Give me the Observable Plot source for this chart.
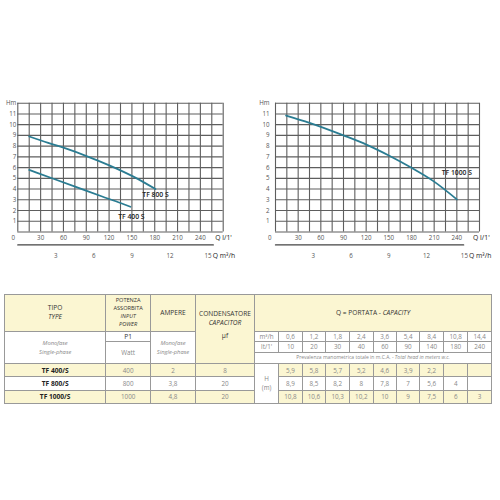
<!DOCTYPE html>
<html><head><meta charset="utf-8">
<script src="https://cdn.jsdelivr.net/npm/d3@7"></script>
<script src="https://cdn.jsdelivr.net/npm/@observablehq/plot@0.6"></script>
<style>
body{margin:0;background:#fff;font-family:"Open Sans",sans-serif}
#wrap{position:relative;width:500px;height:500px;overflow:hidden;background:#fff}
#wrap svg{display:block}
#c1{position:absolute;left:0;top:90px}
#c2{position:absolute;left:250px;top:90px}
#tbl{position:absolute;left:4px;top:294px}
table{border-collapse:collapse;table-layout:fixed;width:487px;font-family:"Open Sans",sans-serif;font-size:6.3px;line-height:1.15;color:#888}
td{border:1px solid #999;padding:0;text-align:center;vertical-align:middle;overflow:hidden;white-space:nowrap}
.cr{background:#fbf6d2}
.hd{color:#333;font-size:6.6px}
.md{color:#222;font-weight:700;font-size:6.6px}
.it{font-style:italic}
.sm{font-size:5.6px}
.mono{font-size:5.8px}
</style></head>
<body><div id="wrap"><div id="c1"></div><div id="c2"></div><div id="tbl"></div></div>
<script>
// ---- axis tick labels ----
const qTicksLmin = [0, 30, 60, 90, 120, 150, 180, 210, 240];
const qTicksM3h = [3, 6, 9, 12, 15];
const hTicks = [1, 2, 3, 4, 5, 6, 7, 8, 9, 10, 11, 12];
const gridQ = [0,15,30,45,60,75,90,105,120,135,150,165,180,195,210,225,240,255,270];
const gridH = [0,1,2,3,4,5,6,7,8,9,10,11,12];

// ---- curves (Q l/min, H m) ----
const tf400Q = [15, 45, 78, 110, 135, 148];
const tf400H = [5.78, 5.01, 4.16, 3.33, 2.70, 2.35];
const tf800Q = [15, 40, 61, 92, 121, 152, 181];
const tf800H = [8.9, 8.3, 7.83, 7.03, 6.19, 5.16, 4.0];
const tf1000Q = [14, 45, 90, 121, 150, 180, 209, 240];
const tf1000H = [10.85, 10.17, 9.0, 8.12, 7.13, 5.98, 4.74, 3.04];

// ---- table ----
const models = ["TF 400/S", "TF 800/S", "TF 1000/S"];
const powerW = [400, 800, 1000];
const ampere = [2, 3.8, 4.8];
const capacitor = [8, 20, 20];
const flowM3h = [0.6, 1.2, 1.8, 2.4, 3.6, 5.4, 8.4, 10.8, 14.4];
const flowLmin = [10, 20, 30, 40, 60, 90, 140, 180, 240];
const head400 = [5.9, 5.8, 5.7, 5.2, 4.6, 3.9, 2.2, null, null];
const head800 = [8.9, 8.5, 8.2, 8, 7.8, 7, 5.6, 4, null];
const head1000 = [10.8, 10.6, 10.3, 10.2, 10, 9, 7.5, 6, 3];

const rows = (name, qs, hs) => qs.map((q, i) => ({model: name, q, h: hs[i]}));
const lineColor = "#2a7c92";
const gridColor = "#5e5e5e";
const font = "Open Sans, sans-serif";

function chart(series, opt) {
  const axisLine = [{q: 0, h: -1.2}, {q: opt.axisEnd, h: -1.2}];
  const marks = [
    Plot.gridX(gridQ, {stroke: gridColor, strokeOpacity: 1, strokeWidth: 1.1}),
    Plot.gridY(gridH, {stroke: gridColor, strokeOpacity: 1, strokeWidth: 1.1}),
    // secondary (m³/h) axis line just below the frame
    Plot.line(axisLine, {x: "q", y: "h", stroke: "#444", strokeWidth: 1.3, strokeOpacity: 1}),
    Plot.axisY(hTicks, {tickSize: 0, tickPadding: opt.tickPad, tickFormat: d => d === 12 ? "Hm" : d, label: null}),
    Plot.axisX([qTicksLmin[0]], {tickSize: 0, tickPadding: 4, dx: opt.zeroDx, label: null}),
    Plot.axisX(qTicksLmin.slice(1), {tickSize: 0, tickPadding: 4, label: null}),
    Plot.axisX(qTicksM3h.map(v => v * 1000 / 60), {tickSize: 0, tickPadding: 4, dy: 17.5, tickFormat: d => Math.round(d * 60 / 1000), label: null}),
    Plot.text(["Q l/1'"], {text: d => d, frameAnchor: "bottom-right", textAnchor: "start", dx: opt.qdx, dy: 8, fill: "#222", fontSize: 6.8}),
    Plot.text(["Q m³/h"], {text: d => d, frameAnchor: "bottom-right", textAnchor: "start", dx: -10.5, dy: 25.5, fill: "#222", fontSize: 6.8})
  ];
  for (const s of series) {
    marks.push(Plot.line(s.data, {x: "q", y: "h", stroke: lineColor, strokeWidth: 1.8, curve: "monotone-x"}));
    marks.push(Plot.text(s.data, Plot.selectLast({x: "q", y: "h", text: () => s.label, dx: s.dx, dy: s.dy, fill: "#222", fontWeight: 600, fontSize: 6.8})));
  }
  return Plot.plot({
    width: 250, height: 175,
    marginTop: 12.7, marginBottom: 33.5, marginLeft: opt.ml, marginRight: opt.mr,
    x: {domain: [0, 270]}, y: {domain: [0, 12]},
    style: {fontFamily: font, fontSize: "6.2px", color: "#555", background: "transparent", overflow: "visible"},
    marks
  });
}

document.getElementById("c1").append(chart([
  {data: rows("TF 800 S", tf800Q, tf800H), label: "TF 800 S", dx: 0, dy: 6},
  {data: rows("TF 400 S", tf400Q, tf400H), label: "TF 400 S", dx: 1, dy: 10.5}
], {ml: 17.3, mr: 27.3, tickPad: 1.5, qdx: -8, zeroDx: -4.6, axisEnd: 257}));

document.getElementById("c2").append(chart([
  {data: rows("TF 1000 S", tf1000Q, tf1000H), label: "TF 1000 S", dx: 0, dy: -27}
], {ml: 25, mr: 21, tickPad: 6, qdx: -6.5, zeroDx: -5.7, axisEnd: 249}));

// ---- build table ----
const fmt = v => v == null ? "" : String(v).replace(".", ",");
const colW = [101.3, 44.7, 45, 59, 24.3, 23.4, 23.6, 23.7, 23.7, 23.3, 23.3, 24, 24, 23.7];
let h = '<table><colgroup>' + colW.map(w => `<col style="width:${w}px">`).join("") + '</colgroup>';
h += `<tr style="height:37px">
<td class="cr hd" style="line-height:1.35">TIPO<br><span class="it">TYPE</span></td>
<td class="cr hd sm" style="line-height:1.4">POTENZA<br>ASSORBITA<br><span class="it">INPUT<br>POWER</span></td>
<td class="cr hd">AMPERE</td>
<td class="cr hd" rowspan="4" style="line-height:1.35;padding-bottom:8px">CONDENSATORE<br><span class="it">CAPACITOR</span><br><span style="display:inline-block;margin-top:4px">µf</span></td>
<td class="cr hd" colspan="10">Q = PORTATA - <span class="it">CAPACITY</span></td></tr>`;
h += `<tr style="height:10px">
<td rowspan="3" class="it mono" style="line-height:1.45">Monofase<br>Single-phase</td>
<td class="hd">P1</td>
<td rowspan="3" class="it mono" style="line-height:1.45">Monofase<br>Single-phase</td>
<td>m³/h</td>${flowM3h.map(v => `<td>${fmt(v)}</td>`).join("")}</tr>`;
h += `<tr style="height:11px"><td rowspan="2">Watt</td><td>lt/1'</td>${flowLmin.map(v => `<td>${fmt(v)}</td>`).join("")}</tr>`;
h += `<tr style="height:11.3px"><td colspan="10" style="font-size:5px">Prevalenza manometrica totale in m.C.A. - <span class="it">Total head in meters w.c.</span></td></tr>`;
const heads = [head400, head800, head1000];
models.forEach((m, i) => {
  const cls = i % 2 === 0 ? "cr" : "";
  h += `<tr class="${cls}" style="height:${i === 0 ? 13 : 13.3}px"><td class="md">${m}</td><td>${fmt(powerW[i])}</td><td>${fmt(ampere[i])}</td><td>${fmt(capacitor[i])}</td>`;
  if (i === 0) h += `<td rowspan="3" style="background:#fff;line-height:1.3">H<br>(m)</td>`;
  h += heads[i].map(v => `<td>${fmt(v)}</td>`).join("") + `</tr>`;
});
h += '</table>';
document.getElementById("tbl").innerHTML = h;
</script></body></html>
